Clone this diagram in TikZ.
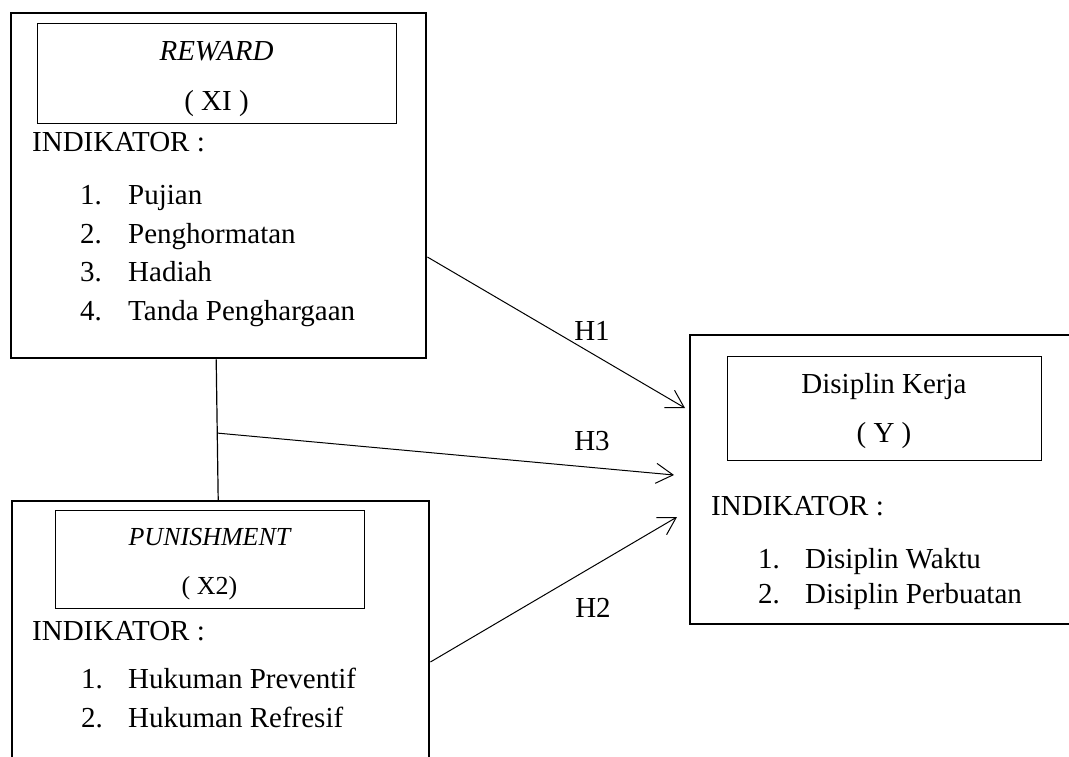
\documentclass[tikz,border=0pt]{standalone}
\usepackage{fontspec}
\setmainfont{Liberation Serif}
\usetikzlibrary{arrows.meta}
\begin{document}
\begin{tikzpicture}[x=1pt,y=-1pt,
  bigbox/.style={draw,line width=2.4pt,anchor=north west,inner sep=0pt},
  titlebox/.style={draw,line width=1pt,anchor=north west,inner sep=0pt},
  lbl/.style={inner sep=0pt,anchor=base,font=\fontsize{29}{34}\selectfont},
  item/.style={lbl,anchor=base west},
  hyp/.style={line width=1pt,-{Straight Barb[length=17pt,width=20pt,line width=1pt]}}]
\useasboundingbox (0,0) rectangle (1069,756);

% X1 : reward
\node[bigbox,minimum width=415pt,minimum height=345pt] (reward) at (10,12) {};
\node[titlebox,minimum width=359pt,minimum height=100pt] (rewardt) at (37,23) {};
\node[lbl,font=\fontsize{29}{34}\selectfont\itshape] (rewardn) at (216.5,60) {REWARD};
\node[lbl] (rewardv) at (216.5,110) {( XI )};
\node[item] (rewardi) at (32,151.5) {INDIKATOR :};
\node[item] (r1n) at (80,204.5) {1.};  \node[item] (r1) at (128,204.5) {Pujian};
\node[item] (r2n) at (80,243) {2.};    \node[item] (r2) at (128,243) {Penghormatan};
\node[item] (r3n) at (80,281.5) {3.};  \node[item] (r3) at (128,281.5) {Hadiah};
\node[item] (r4n) at (80,320) {4.};    \node[item] (r4) at (128,320) {Tanda Penghargaan};

% X2 : punishment
\node[bigbox,minimum width=417pt,minimum height=262pt] (punish) at (11,500) {};
\node[titlebox,minimum width=309pt,minimum height=98pt] (punisht) at (55,510) {};
\node[lbl,font=\fontsize{26}{30}\selectfont\itshape] (punishn) at (209.5,545) {PUNISHMENT};
\node[lbl,font=\fontsize{26}{30}\selectfont] (punishv) at (209.5,594) {( X2)};
\node[item] (punishi) at (32,640) {INDIKATOR :};
\node[item] (p1n) at (81,688) {1.};  \node[item] (p1) at (128,688) {Hukuman Preventif};
\node[item] (p2n) at (81,727) {2.};  \node[item] (p2) at (128,727) {Hukuman Refresif};

% Y : disiplin kerja
\node[bigbox,minimum width=386pt,minimum height=289pt] (disiplin) at (689,334) {};
\node[titlebox,minimum width=314pt,minimum height=104pt] (disiplint) at (727,356) {};
\node[lbl] (disiplinn) at (884,393) {Disiplin Kerja};
\node[lbl] (disiplinv) at (884,442) {( Y )};
\node[item] (disiplini) at (711,515) {INDIKATOR :};
\node[item] (d1n) at (758,568) {1.};  \node[item] (d1) at (805,568) {Disiplin Waktu};
\node[item] (d2n) at (758,603) {2.};  \node[item] (d2) at (805,603) {Disiplin Perbuatan};

% hipotesis
\coordinate (h1tip) at (685,408);
\coordinate (h3tip) at (674,475);
\coordinate (h2tip) at (677,517);
\draw[line width=1.2pt] ([xshift=-2.5pt]reward.south) -- coordinate[pos=0.524] (fork) ([xshift=-2.5pt]punish.north);
\draw[hyp] (reward.east |- 0,257) -- (h1tip);
\draw[hyp] (fork) -- (h3tip);
\draw[hyp] (punish.east |- 0,662) -- (h2tip);
\node[lbl] (h1) at (592,340) {H1};
\node[lbl] (h3) at (592,450) {H3};
\node[lbl] (h2) at (593,617) {H2};
\end{tikzpicture}
\end{document}
